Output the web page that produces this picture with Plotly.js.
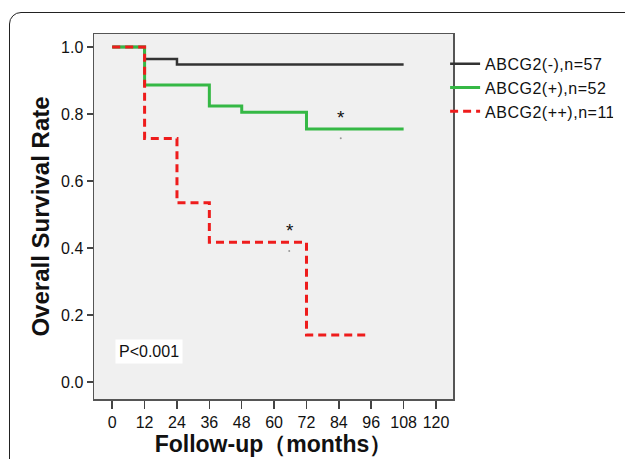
<!DOCTYPE html>
<html>
<head>
<meta charset="utf-8">
<script src="https://cdn.plot.ly/plotly-3.0.1.min.js"></script>
<style>
  html, body { margin: 0; padding: 0; background: #ffffff; width: 625px; height: 459px; overflow: hidden; }
  #frame { position: absolute; left: 9px; top: 12px; width: 700px; height: 500px;
           border: 1.5px solid #222; border-radius: 12px; box-sizing: border-box; }
  #chart { position: absolute; left: 0; top: 0; width: 625px; height: 459px; }
  #chart .legendtext { letter-spacing: 0.5px; }
</style>
</head>
<body>
<div id="frame"></div>
<div id="chart"></div>
<script>
// Kaplan-Meier step data (months, survival rate)
const negMonths  = [0, 12, 24, 108];
const negSurv    = [1.0, 0.964, 0.948, 0.948];
const posMonths  = [0, 12, 36, 48, 72, 108];
const posSurv    = [1.0, 0.887, 0.824, 0.805, 0.755, 0.755];
const pp_Months  = [0, 12, 24, 36, 72, 95];
const pp_Surv    = [1.0, 0.727, 0.535, 0.417, 0.140, 0.140];

// asterisk markers and small dots
const starX = [84.7, 65.8];
const starY = [0.784, 0.446];
const dotX  = [84.7, 65.6];
const dotY  = [0.728, 0.391];

const seriesNames = ['ABCG2(-),n=57', 'ABCG2(+),n=52', 'ABCG2(++),n=11'];
const xTicks = [0, 12, 24, 36, 48, 60, 72, 84, 96, 108, 120];
const yTicks = [0.0, 0.2, 0.4, 0.6, 0.8, 1.0];
const yTickText = ['0.0', '0.2', '0.4', '0.6', '0.8', '1.0'];

const traces = [
  { x: negMonths, y: negSurv, name: seriesNames[0], mode: 'lines', line: { shape: 'hv', color: '#333333', width: 2.5 } },
  { x: posMonths, y: posSurv, name: seriesNames[1], mode: 'lines', line: { shape: 'hv', color: '#35b845', width: 3 } },
  { x: pp_Months, y: pp_Surv, name: seriesNames[2], mode: 'lines', line: { shape: 'hv', color: '#ee1c1c', width: 3, dash: '8px,5px' } },
  { x: starX, y: starY, mode: 'text', text: ['*', '*'], textfont: { family: 'Arial', size: 19, color: '#111' }, showlegend: false, hoverinfo: 'skip' },
  { x: dotX, y: dotY, mode: 'markers', marker: { size: 2, color: '#999' }, showlegend: false, hoverinfo: 'skip' }
];

const layout = {
  width: 625, height: 459,
  margin: { l: 94, r: 162, t: 34, b: 60 },
  paper_bgcolor: 'rgba(0,0,0,0)',
  plot_bgcolor: '#f0f0f0',
  font: { family: 'Arial, Liberation Sans, sans-serif', color: '#111' },
  xaxis: {
    range: [-6.75, 126.3], tickvals: xTicks, ticks: 'outside', ticklen: 8, tickwidth: 1.5, tickcolor: '#444',
    showline: true, mirror: true, linecolor: '#555', linewidth: 1.5, showgrid: false, zeroline: false,
    tickfont: { size: 16, family: 'Arial' },
    title: { text: '<b>Follow-up（months）</b>', font: { size: 23, family: 'Arial' }, standoff: 6 }
  },
  yaxis: {
    range: [-0.051, 1.039], tickvals: yTicks, ticktext: yTickText, ticks: 'outside', ticklen: 6, tickwidth: 1.5, tickcolor: '#444',
    showline: true, mirror: true, linecolor: '#555', linewidth: 1.5, showgrid: false, zeroline: false,
    tickfont: { size: 16, family: 'Arial' },
    title: { text: '<b>Overall Survival Rate</b>', font: { size: 24, family: 'Arial' }, standoff: 4 }
  },
  legend: {
    x: 0.978, xanchor: 'left', y: 0.965, yanchor: 'top',
    bgcolor: 'rgba(0,0,0,0)', borderwidth: 0, itemwidth: 30,
    font: { size: 16, family: 'Arial', color: '#111' }, tracegroupgap: 0
  },
  annotations: [
    { x: 13.8, y: 0.09, xref: 'x', yref: 'y', text: 'P<0.001', showarrow: false,
      font: { size: 16, family: 'Arial', color: '#111' }, bgcolor: '#ffffff', borderpad: 3 }
  ]
};

Plotly.newPlot('chart', traces, layout, { displayModeBar: false, staticPlot: true });
</script>
</body>
</html>
